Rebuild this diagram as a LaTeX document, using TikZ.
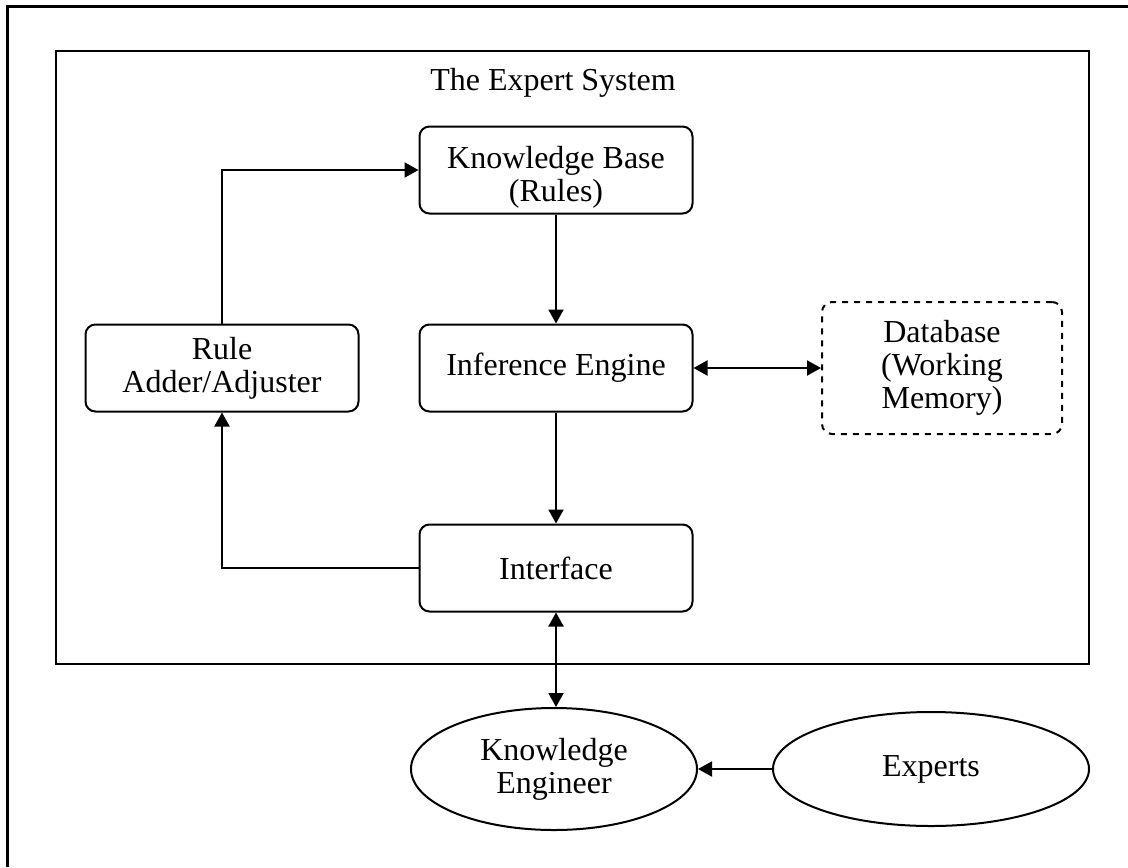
\documentclass[tikz,border=0pt]{standalone}
\usepackage{fontspec}
\setmainfont{Liberation Serif}
\usetikzlibrary{arrows.meta,shapes.geometric}

\begin{document}
\begin{tikzpicture}[x=0.5pt,y=-0.5pt,line width=1pt,
  box/.style={draw,rounded corners=5pt,minimum width=136.5pt,minimum height=43.5pt,align=center,inner sep=0pt},
  dbbox/.style={box,dashed,minimum width=120pt,minimum height=66pt},
  oval/.style={draw,ellipse,minimum width=143pt,minimum height=61pt,align=center,inner sep=0pt},
  every node/.style={font=\fontsize{16}{16.5}\selectfont},
  >={Triangle[length=7pt,width=7.5pt]}]
\useasboundingbox (0,0) rectangle (1128,867);
\draw [line width=1.5pt] (7,867) -- (7,6) -- (1128,6);
\draw (56,51) rectangle (1089,664);
\node (title) at (553,83) {The Expert System};
\node [box] (kb) at (556,170) {\rule{0pt}{18pt}Knowledge Base\\(Rules)};
\node [box] (ie) at (556,368) {Inference Engine};
\node [box] (rule) at (222,368) {Rule\\Adder/Adjuster};
\node [dbbox] (db) at (942,368) {Database\\(Working\\Memory)};
\node [box] (intf) at (556,568) {Interface};
\node [oval] (ke) at (554,769) {Knowledge\\Engineer};
\node [oval,minimum width=158pt,minimum height=57pt] (exp) at (931,769) {Experts};
\draw [->] (rule.north) |- (kb.west);
\draw [->] (kb.south) -- (ie.north);
\draw [<->] (ie.east) -- (db.west);
\draw [->] (ie.south) -- (intf.north);
\draw [->] (intf.west) -| (rule.south);
\draw [<->] (intf.south) -- (intf.south |- ke.north);
\draw [->] (exp.west) -- (ke.east);
\end{tikzpicture}
\end{document}
